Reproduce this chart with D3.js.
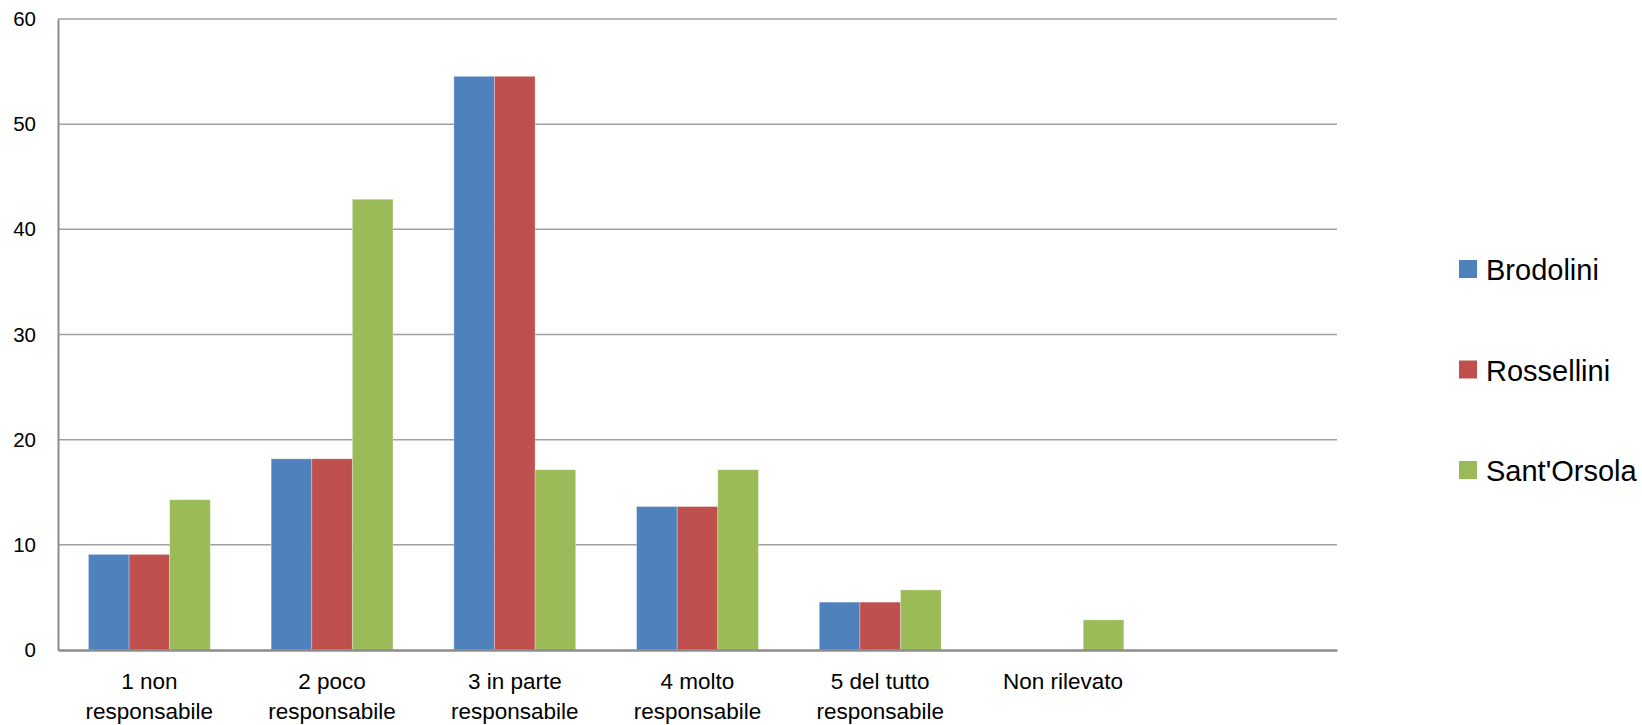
<!DOCTYPE html>
<html>
<head>
<meta charset="utf-8">
<script src="https://cdn.jsdelivr.net/npm/d3@7"></script>
<style>
  body { margin: 0; background: #fff; }
  text { font-family: "Liberation Sans", Arial, sans-serif; fill: #000; }
</style>
</head>
<body>
<svg id="chart" width="1642" height="725"></svg>
<script>
// categories (the last slot is empty in the original chart)
const categories = ["1 non|responsabile", "2 poco|responsabile", "3 in parte|responsabile",
                    "4 molto|responsabile", "5 del tutto|responsabile", "Non rilevato", ""];
const seriesNames = ["Brodolini", "Rossellini", "Sant'Orsola"];
const brodolini  = [9.09, 18.18, 54.55, 13.64, 4.55, 0, null];
const rossellini = [9.09, 18.18, 54.55, 13.64, 4.55, 0, null];
const santOrsola = [14.29, 42.86, 17.14, 17.14, 5.71, 2.86, null];
const seriesColors = ["#4F81BD", "#C0504D", "#9BBB59"];
const yTicks = [0, 10, 20, 30, 40, 50, 60];

const seriesValues = [brodolini, rossellini, santOrsola];

const margin = {left: 58, top: 19, right: 1337, bottom: 650};
const svg = d3.select("#chart");

const x = d3.scaleBand()
    .domain(categories.map((c, i) => i))
    .range([margin.left, margin.right])
    .paddingInner(1/3)
    .paddingOuter(1/6);

const xSub = d3.scaleBand()
    .domain(seriesNames)
    .range([0, x.bandwidth()]);

const y = d3.scaleLinear()
    .domain([0, 60])
    .range([margin.bottom, margin.top]);

// gridlines
svg.append("g")
    .selectAll("line")
    .data(yTicks.filter(d => d > 0))
    .join("line")
    .attr("x1", margin.left)
    .attr("x2", margin.right)
    .attr("y1", d => y(d))
    .attr("y2", d => y(d))
    .attr("stroke", "#a0a0a0")
    .attr("stroke-width", 1.5);

// bars
const groups = svg.append("g")
    .selectAll("g")
    .data(categories.map((c, i) => i))
    .join("g")
    .attr("transform", i => `translate(${x(i)},0)`);

groups.selectAll("rect")
    .data(i => seriesNames.map((s, k) => ({s, k, v: seriesValues[k][i]})).filter(d => d.v))
    .join("rect")
    .attr("x", d => xSub(d.s))
    .attr("width", xSub.bandwidth())
    .attr("y", d => y(d.v))
    .attr("height", d => y(0) - y(d.v))
    .attr("fill", d => seriesColors[d.k])
    .attr("stroke", "rgba(255,255,255,0.35)")
    .attr("stroke-width", 0.8);

// y axis
const yAxis = svg.append("g")
    .attr("transform", `translate(${margin.left},0)`)
    .call(d3.axisLeft(y).tickValues(yTicks).tickSize(0).tickPadding(22));
yAxis.select(".domain").attr("stroke", "#8c8c8c").attr("stroke-width", 2);
yAxis.selectAll("text").style("font-size", "20.5px").style("font-family", "Liberation Sans, Arial, sans-serif");

// x axis
const xAxis = svg.append("g")
    .attr("transform", `translate(0,${margin.bottom})`)
    .call(d3.axisBottom(x).tickSize(0).tickFormat(""));
xAxis.select(".domain").attr("stroke", "#8c8c8c").attr("stroke-width", 2.5);

svg.append("g")
    .selectAll("text")
    .data(categories.map((c, i) => ({c, i})))
    .join("text")
    .attr("text-anchor", "middle")
    .attr("x", d => x(d.i) + x.bandwidth() / 2)
    .attr("y", margin.bottom + 39)
    .style("font-size", "22.5px")
    .each(function(d) {
        const lines = d.c.split("|");
        d3.select(this).selectAll("tspan")
            .data(lines)
            .join("tspan")
            .attr("x", x(d.i) + x.bandwidth() / 2)
            .attr("dy", (l, j) => j === 0 ? 0 : 30)
            .text(l => l);
    });

// legend
const legend = svg.append("g")
    .selectAll("g")
    .data(seriesNames)
    .join("g")
    .attr("transform", (d, i) => `translate(1459,${260 + i * 100.5})`);

legend.append("rect")
    .attr("width", 18)
    .attr("height", 18)
    .attr("fill", (d, i) => seriesColors[i]);

legend.append("text")
    .attr("x", 27)
    .attr("y", 20)
    .style("font-size", "29px")
    .text(d => d);
</script>
</body>
</html>
